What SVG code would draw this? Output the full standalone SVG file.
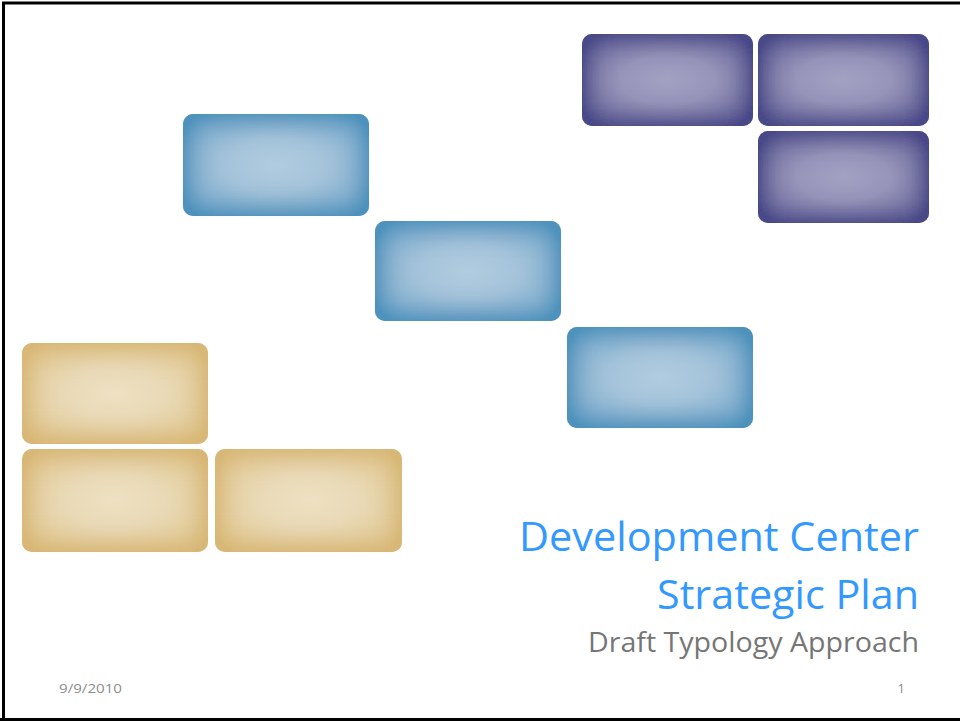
<svg xmlns="http://www.w3.org/2000/svg" width="960" height="721" viewBox="0 0 960 721">
  <style>
    .tile { stroke: none; }
    .purple { fill: url(#gPurple); filter: url(#edgePurple); }
    .blue { fill: url(#gBlue); filter: url(#edgeBlue); }
    .tan { fill: url(#gTan); filter: url(#edgeTan); }
    .title { font-family: "Open Sans", "Liberation Sans", sans-serif; fill: #3399ff; text-anchor: end; }
    .subtitle { font-family: "Open Sans", "Liberation Sans", sans-serif; fill: #767676; text-anchor: end; }
    .footer { font-family: "Open Sans", "Liberation Sans", sans-serif; fill: #8c8c8c; font-size: 13px; }
  </style>
  <defs>
    <!-- soft centre fills -->
    <radialGradient id="gPurple" cx="0.5" cy="0.5" r="0.6">
      <stop offset="0" stop-color="#a2a1c3"/>
      <stop offset="0.45" stop-color="#9795ba"/>
      <stop offset="1" stop-color="#6f6d9f"/>
    </radialGradient>
    <radialGradient id="gBlue" cx="0.5" cy="0.5" r="0.6">
      <stop offset="0" stop-color="#b1cce0"/>
      <stop offset="0.45" stop-color="#a4c3da"/>
      <stop offset="1" stop-color="#7aaacc"/>
    </radialGradient>
    <radialGradient id="gTan" cx="0.5" cy="0.5" r="0.6">
      <stop offset="0" stop-color="#eee0c2"/>
      <stop offset="0.45" stop-color="#e9d9b6"/>
      <stop offset="1" stop-color="#e1c892"/>
    </radialGradient>

    <!-- darkened rim along each tile edge (inner glow) -->
    <filter id="edgePurple" x="-0.3" y="-0.3" width="1.6" height="1.6">
      <feFlood flood-color="#4a4888"/>
      <feComposite in2="SourceAlpha" operator="out"/>
      <feGaussianBlur stdDeviation="15"/>
      <feComponentTransfer><feFuncA type="linear" slope="1.8"/></feComponentTransfer>
      <feComposite in2="SourceAlpha" operator="in" result="rim"/>
      <feMerge><feMergeNode in="SourceGraphic"/><feMergeNode in="rim"/></feMerge>
    </filter>
    <filter id="edgeBlue" x="-0.3" y="-0.3" width="1.6" height="1.6">
      <feFlood flood-color="#4d92bc"/>
      <feComposite in2="SourceAlpha" operator="out"/>
      <feGaussianBlur stdDeviation="15"/>
      <feComponentTransfer><feFuncA type="linear" slope="1.8"/></feComponentTransfer>
      <feComposite in2="SourceAlpha" operator="in" result="rim"/>
      <feMerge><feMergeNode in="SourceGraphic"/><feMergeNode in="rim"/></feMerge>
    </filter>
    <filter id="edgeTan" x="-0.3" y="-0.3" width="1.6" height="1.6">
      <feFlood flood-color="#d8b777"/>
      <feComposite in2="SourceAlpha" operator="out"/>
      <feGaussianBlur stdDeviation="15"/>
      <feComponentTransfer><feFuncA type="linear" slope="1.8"/></feComponentTransfer>
      <feComposite in2="SourceAlpha" operator="in" result="rim"/>
      <feMerge><feMergeNode in="SourceGraphic"/><feMergeNode in="rim"/></feMerge>
    </filter>
  </defs>

  <rect x="0" y="0" width="960" height="721" fill="#ffffff"/>

  <!-- slide frame -->
  <path d="M3.5 721 V3 H960" fill="none" stroke="#000000" stroke-width="3"/>
  <line x1="0" y1="719.5" x2="960" y2="719.5" stroke="#000000" stroke-width="3"/>

  <!-- purple tiles -->
  <g id="tile-purple-1"><rect class="tile purple" x="582" y="34" width="171" height="92" rx="10"/></g>
  <g id="tile-purple-2"><rect class="tile purple" x="758" y="34" width="171" height="92" rx="10"/></g>
  <g id="tile-purple-3"><rect class="tile purple" x="758" y="131" width="171" height="92" rx="10"/></g>

  <!-- blue tiles -->
  <g id="tile-blue-1"><rect class="tile blue" x="183" y="114" width="186" height="102" rx="10"/></g>
  <g id="tile-blue-2"><rect class="tile blue" x="375" y="221" width="186" height="100" rx="10"/></g>
  <g id="tile-blue-3"><rect class="tile blue" x="567" y="327" width="186" height="101" rx="10"/></g>

  <!-- tan tiles -->
  <g id="tile-tan-1"><rect class="tile tan" x="22" y="343" width="186" height="101" rx="10"/></g>
  <g id="tile-tan-2"><rect class="tile tan" x="22" y="449" width="186" height="103" rx="10"/></g>
  <g id="tile-tan-3"><rect class="tile tan" x="215" y="449" width="187" height="103" rx="10"/></g>

  <!-- title block -->
  <g id="title">
    <text class="title" x="919" y="551" font-size="41" textLength="400" lengthAdjust="spacingAndGlyphs">Development Center</text>
    <text class="title" x="919" y="609" font-size="41" textLength="262" lengthAdjust="spacingAndGlyphs">Strategic Plan</text>
    <text class="subtitle" x="919" y="652" font-size="27" textLength="331" lengthAdjust="spacingAndGlyphs">Draft Typology Approach</text>
  </g>

  <!-- footer -->
  <g id="footer">
    <text class="footer" x="59" y="693" textLength="63" lengthAdjust="spacingAndGlyphs">9/9/2010</text>
    <text class="footer" x="905" y="693" text-anchor="end">1</text>
  </g>
</svg>
